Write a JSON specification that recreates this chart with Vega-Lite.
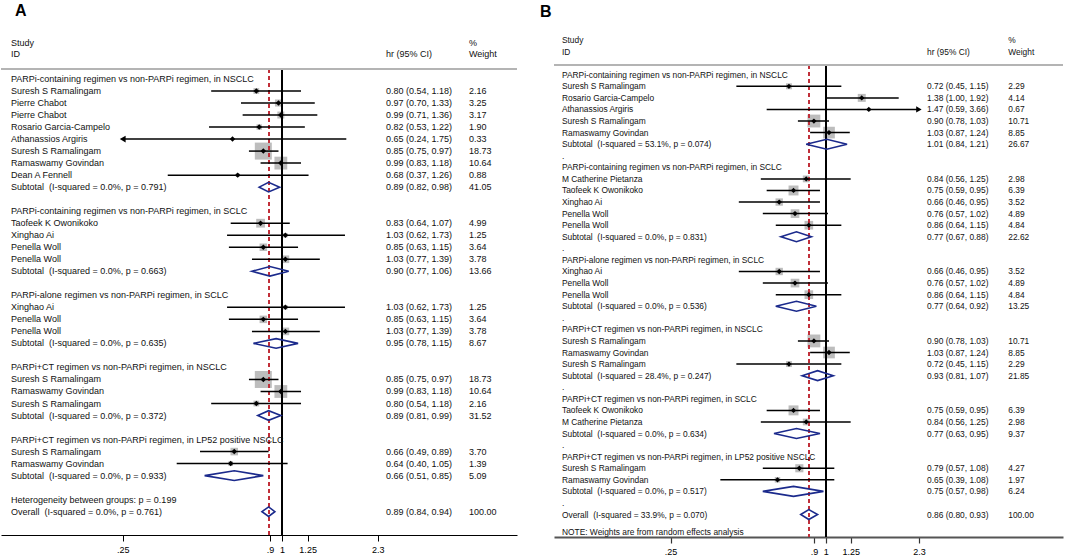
{
"$schema": "https://vega.github.io/schema/vega-lite/v6.json",
"padding": 0,
"background": "white",
"spacing": 37,
"bounds": "flush",
"config": {"view": {"stroke": null}, "font": "Liberation Sans", "axisY": {"disable": true}},
"datasets": {
"A": [
{"r":-5.62,"t":"letter","label":"A"},
{"r":-3,"t":"head","label":"Study","wt":"%"},
{"r":-2.08,"t":"head","label":"ID","ci":"hr (95% CI)","wt":"Weight"},
{"r":0,"t":"group","label":"PARPi-containing regimen vs non-PARPi regimen, in NSCLC"},
{"r":1,"t":"study","label":"Suresh S Ramalingam","est":0.80,"lo":0.54,"hi":1.18,"w":2.16,"ci":"0.80 (0.54, 1.18)","wt":"2.16"},
{"r":2,"t":"study","label":"Pierre Chabot","est":0.97,"lo":0.70,"hi":1.33,"w":3.25,"ci":"0.97 (0.70, 1.33)","wt":"3.25"},
{"r":3,"t":"study","label":"Pierre Chabot","est":0.99,"lo":0.71,"hi":1.36,"w":3.17,"ci":"0.99 (0.71, 1.36)","wt":"3.17"},
{"r":4,"t":"study","label":"Rosario Garcia-Campelo","est":0.82,"lo":0.53,"hi":1.22,"w":1.90,"ci":"0.82 (0.53, 1.22)","wt":"1.90"},
{"r":5,"t":"study","label":"Athanassios Argiris","est":0.65,"lo":0.25,"hi":1.75,"w":0.33,"ci":"0.65 (0.24, 1.75)","wt":"0.33","arrow":"left"},
{"r":6,"t":"study","label":"Suresh S Ramalingam","est":0.85,"lo":0.75,"hi":0.97,"w":18.73,"ci":"0.85 (0.75, 0.97)","wt":"18.73"},
{"r":7,"t":"study","label":"Ramaswamy Govindan","est":0.99,"lo":0.83,"hi":1.18,"w":10.64,"ci":"0.99 (0.83, 1.18)","wt":"10.64"},
{"r":8,"t":"study","label":"Dean A Fennell","est":0.68,"lo":0.37,"hi":1.26,"w":0.88,"ci":"0.68 (0.37, 1.26)","wt":"0.88"},
{"r":9,"t":"sub","label":"Subtotal\u00a0 (I-squared = 0.0%, p = 0.791)","ci":"0.89 (0.82, 0.98)","wt":"41.05"},
{"r":11,"t":"group","label":"PARPi-containing regimen vs non-PARPi regimen, in SCLC"},
{"r":12,"t":"study","label":"Taofeek K Owonikoko","est":0.83,"lo":0.64,"hi":1.07,"w":4.99,"ci":"0.83 (0.64, 1.07)","wt":"4.99"},
{"r":13,"t":"study","label":"Xinghao Ai","est":1.03,"lo":0.62,"hi":1.73,"w":1.25,"ci":"1.03 (0.62, 1.73)","wt":"1.25"},
{"r":14,"t":"study","label":"Penella Woll","est":0.85,"lo":0.63,"hi":1.15,"w":3.64,"ci":"0.85 (0.63, 1.15)","wt":"3.64"},
{"r":15,"t":"study","label":"Penella Woll","est":1.03,"lo":0.77,"hi":1.39,"w":3.78,"ci":"1.03 (0.77, 1.39)","wt":"3.78"},
{"r":16,"t":"sub","label":"Subtotal\u00a0 (I-squared = 0.0%, p = 0.663)","ci":"0.90 (0.77, 1.06)","wt":"13.66"},
{"r":18,"t":"group","label":"PARPi-alone regimen vs non-PARPi regimen, in SCLC"},
{"r":19,"t":"study","label":"Xinghao Ai","est":1.03,"lo":0.62,"hi":1.73,"w":1.25,"ci":"1.03 (0.62, 1.73)","wt":"1.25"},
{"r":20,"t":"study","label":"Penella Woll","est":0.85,"lo":0.63,"hi":1.15,"w":3.64,"ci":"0.85 (0.63, 1.15)","wt":"3.64"},
{"r":21,"t":"study","label":"Penella Woll","est":1.03,"lo":0.77,"hi":1.39,"w":3.78,"ci":"1.03 (0.77, 1.39)","wt":"3.78"},
{"r":22,"t":"sub","label":"Subtotal\u00a0 (I-squared = 0.0%, p = 0.635)","ci":"0.95 (0.78, 1.15)","wt":"8.67"},
{"r":24,"t":"group","label":"PARPi+CT regimen vs non-PARPi regimen, in NSCLC"},
{"r":25,"t":"study","label":"Suresh S Ramalingam","est":0.85,"lo":0.75,"hi":0.97,"w":18.73,"ci":"0.85 (0.75, 0.97)","wt":"18.73"},
{"r":26,"t":"study","label":"Ramaswamy Govindan","est":0.99,"lo":0.83,"hi":1.18,"w":10.64,"ci":"0.99 (0.83, 1.18)","wt":"10.64"},
{"r":27,"t":"study","label":"Suresh S Ramalingam","est":0.80,"lo":0.54,"hi":1.18,"w":2.16,"ci":"0.80 (0.54, 1.18)","wt":"2.16"},
{"r":28,"t":"sub","label":"Subtotal\u00a0 (I-squared = 0.0%, p = 0.372)","ci":"0.89 (0.81, 0.99)","wt":"31.52"},
{"r":30,"t":"group","label":"PARPi+CT regimen vs non-PARPi regimen, in LP52 positive NSCLC"},
{"r":31,"t":"study","label":"Suresh S Ramalingam","est":0.66,"lo":0.49,"hi":0.89,"w":3.70,"ci":"0.66 (0.49, 0.89)","wt":"3.70"},
{"r":32,"t":"study","label":"Ramaswamy Govindan","est":0.64,"lo":0.40,"hi":1.05,"w":1.39,"ci":"0.64 (0.40, 1.05)","wt":"1.39"},
{"r":33,"t":"sub","label":"Subtotal\u00a0 (I-squared = 0.0%, p = 0.933)","ci":"0.66 (0.51, 0.85)","wt":"5.09"},
{"r":35,"t":"het","label":"Heterogeneity between groups: p = 0.199"},
{"r":36,"t":"overall","label":"Overall\u00a0 (I-squared = 0.0%, p = 0.761)","ci":"0.89 (0.84, 0.94)","wt":"100.00"}
],
"B": [
{"r":-5.46,"t":"letter","label":"B"},
{"r":-3,"t":"head","label":"Study","wt":"%"},
{"r":-1.99,"t":"head","label":"ID","ci":"hr (95% CI)","wt":"Weight"},
{"r":0,"t":"group","label":"PARPi-containing regimen vs non-PARPi regimen, in NSCLC"},
{"r":1,"t":"study","label":"Suresh S Ramalingam","est":0.72,"lo":0.45,"hi":1.15,"w":2.29,"ci":"0.72 (0.45, 1.15)","wt":"2.29"},
{"r":2,"t":"study","label":"Rosario Garcia-Campelo","est":1.38,"lo":1.00,"hi":1.92,"w":4.14,"ci":"1.38 (1.00, 1.92)","wt":"4.14"},
{"r":3,"t":"study","label":"Athanassios Argiris","est":1.47,"lo":0.59,"hi":2.3,"w":0.67,"ci":"1.47 (0.59, 3.66)","wt":"0.67","arrow":"right"},
{"r":4,"t":"study","label":"Suresh S Ramalingam","est":0.90,"lo":0.78,"hi":1.03,"w":10.71,"ci":"0.90 (0.78, 1.03)","wt":"10.71"},
{"r":5,"t":"study","label":"Ramaswamy Govindan","est":1.03,"lo":0.87,"hi":1.24,"w":8.85,"ci":"1.03 (0.87, 1.24)","wt":"8.85"},
{"r":6,"t":"sub","label":"Subtotal\u00a0 (I-squared = 53.1%, p = 0.074)","ci":"1.01 (0.84, 1.21)","wt":"26.67"},
{"r":7,"t":"dot","label":"."},
{"r":8,"t":"group","label":"PARPi-containing regimen vs non-PARPi regimen, in SCLC"},
{"r":9,"t":"study","label":"M Catherine Pietanza","est":0.84,"lo":0.56,"hi":1.25,"w":2.98,"ci":"0.84 (0.56, 1.25)","wt":"2.98"},
{"r":10,"t":"study","label":"Taofeek K Owonikoko","est":0.75,"lo":0.59,"hi":0.95,"w":6.39,"ci":"0.75 (0.59, 0.95)","wt":"6.39"},
{"r":11,"t":"study","label":"Xinghao Ai","est":0.66,"lo":0.46,"hi":0.95,"w":3.52,"ci":"0.66 (0.46, 0.95)","wt":"3.52"},
{"r":12,"t":"study","label":"Penella Woll","est":0.76,"lo":0.57,"hi":1.02,"w":4.89,"ci":"0.76 (0.57, 1.02)","wt":"4.89"},
{"r":13,"t":"study","label":"Penella Woll","est":0.86,"lo":0.64,"hi":1.15,"w":4.84,"ci":"0.86 (0.64, 1.15)","wt":"4.84"},
{"r":14,"t":"sub","label":"Subtotal\u00a0 (I-squared = 0.0%, p = 0.831)","ci":"0.77 (0.67, 0.88)","wt":"22.62"},
{"r":15,"t":"dot","label":"."},
{"r":16,"t":"group","label":"PARPi-alone regimen vs non-PARPi regimen, in SCLC"},
{"r":17,"t":"study","label":"Xinghao Ai","est":0.66,"lo":0.46,"hi":0.95,"w":3.52,"ci":"0.66 (0.46, 0.95)","wt":"3.52"},
{"r":18,"t":"study","label":"Penella Woll","est":0.76,"lo":0.57,"hi":1.02,"w":4.89,"ci":"0.76 (0.57, 1.02)","wt":"4.89"},
{"r":19,"t":"study","label":"Penella Woll","est":0.86,"lo":0.64,"hi":1.15,"w":4.84,"ci":"0.86 (0.64, 1.15)","wt":"4.84"},
{"r":20,"t":"sub","label":"Subtotal\u00a0 (I-squared = 0.0%, p = 0.536)","ci":"0.77 (0.64, 0.92)","wt":"13.25"},
{"r":21,"t":"dot","label":"."},
{"r":22,"t":"group","label":"PARPi+CT regimen vs non-PARPi regimen, in NSCLC"},
{"r":23,"t":"study","label":"Suresh S Ramalingam","est":0.90,"lo":0.78,"hi":1.03,"w":10.71,"ci":"0.90 (0.78, 1.03)","wt":"10.71"},
{"r":24,"t":"study","label":"Ramaswamy Govindan","est":1.03,"lo":0.87,"hi":1.24,"w":8.85,"ci":"1.03 (0.87, 1.24)","wt":"8.85"},
{"r":25,"t":"study","label":"Suresh S Ramalingam","est":0.72,"lo":0.45,"hi":1.15,"w":2.29,"ci":"0.72 (0.45, 1.15)","wt":"2.29"},
{"r":26,"t":"sub","label":"Subtotal\u00a0 (I-squared = 28.4%, p = 0.247)","ci":"0.93 (0.81, 1.07)","wt":"21.85"},
{"r":27,"t":"dot","label":"."},
{"r":28,"t":"group","label":"PARPi+CT regimen vs non-PARPi regimen, in SCLC"},
{"r":29,"t":"study","label":"Taofeek K Owonikoko","est":0.75,"lo":0.59,"hi":0.95,"w":6.39,"ci":"0.75 (0.59, 0.95)","wt":"6.39"},
{"r":30,"t":"study","label":"M Catherine Pietanza","est":0.84,"lo":0.56,"hi":1.25,"w":2.98,"ci":"0.84 (0.56, 1.25)","wt":"2.98"},
{"r":31,"t":"sub","label":"Subtotal\u00a0 (I-squared = 0.0%, p = 0.634)","ci":"0.77 (0.63, 0.95)","wt":"9.37"},
{"r":32,"t":"dot","label":"."},
{"r":33,"t":"group","label":"PARPi+CT regimen vs non-PARPi regimen, in LP52 positive NSCLC"},
{"r":34,"t":"study","label":"Suresh S Ramalingam","est":0.79,"lo":0.57,"hi":1.08,"w":4.27,"ci":"0.79 (0.57, 1.08)","wt":"4.27"},
{"r":35,"t":"study","label":"Ramaswamy Govindan","est":0.65,"lo":0.39,"hi":1.08,"w":1.97,"ci":"0.65 (0.39, 1.08)","wt":"1.97"},
{"r":36,"t":"sub","label":"Subtotal\u00a0 (I-squared = 0.0%, p = 0.517)","ci":"0.75 (0.57, 0.98)","wt":"6.24"},
{"r":37,"t":"dot","label":"."},
{"r":38,"t":"overall","label":"Overall\u00a0 (I-squared = 33.9%, p = 0.070)","ci":"0.86 (0.80, 0.93)","wt":"100.00"},
{"r":39.5,"t":"note","label":"NOTE: Weights are from random effects analysis"}
],
"dA": [
{"id":"a9","k":0,"x":0.82,"r":9},{"id":"a9","k":1,"x":0.89,"r":8.6},{"id":"a9","k":2,"x":0.98,"r":9},{"id":"a9","k":3,"x":0.89,"r":9.4},
{"id":"a16","k":0,"x":0.77,"r":16},{"id":"a16","k":1,"x":0.90,"r":15.6},{"id":"a16","k":2,"x":1.06,"r":16},{"id":"a16","k":3,"x":0.90,"r":16.4},
{"id":"a22","k":0,"x":0.78,"r":22},{"id":"a22","k":1,"x":0.95,"r":21.6},{"id":"a22","k":2,"x":1.15,"r":22},{"id":"a22","k":3,"x":0.95,"r":22.4},
{"id":"a28","k":0,"x":0.81,"r":28},{"id":"a28","k":1,"x":0.89,"r":27.6},{"id":"a28","k":2,"x":0.99,"r":28},{"id":"a28","k":3,"x":0.89,"r":28.4},
{"id":"a33","k":0,"x":0.51,"r":33},{"id":"a33","k":1,"x":0.66,"r":32.6},{"id":"a33","k":2,"x":0.85,"r":33},{"id":"a33","k":3,"x":0.66,"r":33.4},
{"id":"a36","k":0,"x":0.84,"r":36},{"id":"a36","k":1,"x":0.89,"r":35.6},{"id":"a36","k":2,"x":0.94,"r":36},{"id":"a36","k":3,"x":0.89,"r":36.4}
],
"dB": [
{"id":"b6","k":0,"x":0.84,"r":6},{"id":"b6","k":1,"x":1.01,"r":5.57},{"id":"b6","k":2,"x":1.21,"r":6},{"id":"b6","k":3,"x":1.01,"r":6.43},
{"id":"b14","k":0,"x":0.67,"r":14},{"id":"b14","k":1,"x":0.77,"r":13.57},{"id":"b14","k":2,"x":0.88,"r":14},{"id":"b14","k":3,"x":0.77,"r":14.43},
{"id":"b20","k":0,"x":0.64,"r":20},{"id":"b20","k":1,"x":0.77,"r":19.57},{"id":"b20","k":2,"x":0.92,"r":20},{"id":"b20","k":3,"x":0.77,"r":20.43},
{"id":"b26","k":0,"x":0.81,"r":26},{"id":"b26","k":1,"x":0.93,"r":25.57},{"id":"b26","k":2,"x":1.07,"r":26},{"id":"b26","k":3,"x":0.93,"r":26.43},
{"id":"b31","k":0,"x":0.63,"r":31},{"id":"b31","k":1,"x":0.77,"r":30.57},{"id":"b31","k":2,"x":0.95,"r":31},{"id":"b31","k":3,"x":0.77,"r":31.43},
{"id":"b36","k":0,"x":0.57,"r":36},{"id":"b36","k":1,"x":0.75,"r":35.57},{"id":"b36","k":2,"x":0.98,"r":36},{"id":"b36","k":3,"x":0.75,"r":36.43},
{"id":"b38","k":0,"x":0.80,"r":38},{"id":"b38","k":1,"x":0.86,"r":37.57},{"id":"b38","k":2,"x":0.93,"r":38},{"id":"b38","k":3,"x":0.86,"r":38.43}
]
},
"hconcat": [
{
"width": 516, "height": 535,
"data": {"name": "A"},
"layer": [
{"transform":[{"filter":"datum.t == 'study'"}],
 "mark":{"type":"point","shape":"square","filled":true,"color":"#bdbdbd","opacity":1},
 "encoding":{
  "x":{"field":"est","type":"quantitative","title":null,"scale":{"type":"log","domain":[0.0867,7.73],"nice":false,"zero":false},
       "axis":{"values":[0.25,0.9,1,1.25,2.3],"labelExpr":"datum.value < 0.3 ? '.25' : datum.value < 0.95 ? '.9' : datum.value < 1.1 ? '1' : datum.value < 2 ? '1.25' : '2.3'","grid":false,"domainColor":"#000","domainWidth":1,"tickColor":"#000","tickSize":6,"tickWidth":1,"labelFontSize":9,"labelColor":"#000","labelPadding":4,"labelOverlap":false,"labelFlush":false,"labelBound":false}},
  "y":{"field":"r","type":"quantitative","axis":null,"scale":{"domain":[-6.57,37.94],"reverse":true,"nice":false,"zero":false}},
  "size":{"field":"w","type":"quantitative","legend":null,"scale":{"type":"linear","domain":[0,18.73],"range":[0,289],"zero":true}}
 }},
{"mark":{"type":"rule","color":"#000","strokeWidth":1.2},
 "encoding":{"x":{"datum":1,"title":null},"y":{"datum":-0.83,"axis":null},"y2":{"datum":37.94}}},
{"mark":{"type":"rule","color":"#c0303a","strokeWidth":1.2,"strokeDash":[4,3]},
 "encoding":{"x":{"datum":0.89,"title":null},"y":{"datum":-0.83,"axis":null},"y2":{"datum":37.94}}},
{"transform":[{"filter":"datum.t == 'study'"}],
 "mark":{"type":"rule","color":"#000","strokeWidth":1.5},
 "encoding":{"x":{"field":"lo","type":"quantitative","title":null},"x2":{"field":"hi"},"y":{"field":"r","type":"quantitative","axis":null}}},
{"transform":[{"filter":"datum.t == 'study'"}],
 "mark":{"type":"point","shape":"diamond","filled":true,"color":"#000","size":30,"opacity":1},
 "encoding":{"x":{"field":"est","type":"quantitative","title":null},"y":{"field":"r","type":"quantitative","axis":null}}},
{"transform":[{"filter":"datum.arrow == 'left'"}],
 "mark":{"type":"point","shape":"triangle-left","filled":true,"color":"#000","size":45,"opacity":1},
 "encoding":{"x":{"field":"lo","type":"quantitative","title":null},"y":{"field":"r","type":"quantitative","axis":null}}},
{"data":{"name":"dA"},
 "mark":{"type":"line","interpolate":"linear-closed","color":"#1b2a8c","strokeWidth":1.6},
 "encoding":{"x":{"field":"x","type":"quantitative","title":null},"y":{"field":"r","type":"quantitative","axis":null},"detail":{"field":"id"},"order":{"field":"k","type":"quantitative"}}},
{"mark":{"type":"rule","color":"#b5b5b5","strokeWidth":1.6},
 "encoding":{"y":{"datum":-0.83,"axis":null}}},
{"transform":[{"filter":"datum.t != 'letter'"}],
 "mark":{"type":"text","align":"left","baseline":"middle","fontSize":9,"color":"#111"},
 "encoding":{"x":{"datum":0.0946,"title":null},"y":{"field":"r","type":"quantitative","axis":null},"text":{"field":"label"}}},
{"transform":[{"filter":"isValid(datum.ci)"}],
 "mark":{"type":"text","align":"left","baseline":"middle","fontSize":9,"color":"#111"},
 "encoding":{"x":{"datum":2.472,"title":null},"y":{"field":"r","type":"quantitative","axis":null},"text":{"field":"ci"}}},
{"transform":[{"filter":"isValid(datum.wt)"}],
 "mark":{"type":"text","align":"left","baseline":"middle","fontSize":9,"color":"#111"},
 "encoding":{"x":{"datum":5.091,"title":null},"y":{"field":"r","type":"quantitative","axis":null},"text":{"field":"wt"}}},
{"transform":[{"filter":"datum.t == 'letter'"}],
 "mark":{"type":"text","align":"left","baseline":"middle","fontSize":16,"fontWeight":"bold","color":"#000"},
 "encoding":{"x":{"datum":0.0979,"title":null},"y":{"field":"r","type":"quantitative","axis":null},"text":{"field":"label"}}}
]
},
{
"width": 509, "height": 537,
"data": {"name": "B"},
"layer": [
{"transform":[{"filter":"datum.t == 'study'"}],
 "mark":{"type":"point","shape":"square","filled":true,"color":"#bdbdbd","opacity":1},
 "encoding":{
  "x":{"field":"est","type":"quantitative","title":null,"scale":{"type":"log","domain":[0.0882,8.336],"nice":false,"zero":false},
       "axis":{"values":[0.25,0.9,1,1.25,2.3],"labelExpr":"datum.value < 0.3 ? '.25' : datum.value < 0.95 ? '.9' : datum.value < 1.1 ? '1' : datum.value < 2 ? '1.25' : '2.3'","grid":false,"domainColor":"#555","domainWidth":2,"tickColor":"#333","tickSize":6,"tickWidth":1.2,"labelFontSize":9,"labelColor":"#000","labelPadding":4,"labelOverlap":false,"labelFlush":false,"labelBound":false}},
  "y":{"field":"r","type":"quantitative","axis":null,"scale":{"domain":[-6.457,39.94],"reverse":true,"nice":false,"zero":false}},
  "size":{"field":"w","type":"quantitative","legend":null,"scale":{"type":"linear","domain":[0,10.71],"range":[0,92],"zero":true}}
 }},
{"mark":{"type":"rule","color":"#000","strokeWidth":1.2},
 "encoding":{"x":{"datum":1,"title":null},"y":{"datum":-0.84,"axis":null},"y2":{"datum":39.94}}},
{"mark":{"type":"rule","color":"#c0303a","strokeWidth":1.2,"strokeDash":[4,3]},
 "encoding":{"x":{"datum":0.86,"title":null},"y":{"datum":-0.84,"axis":null},"y2":{"datum":39.94}}},
{"transform":[{"filter":"datum.t == 'study'"}],
 "mark":{"type":"rule","color":"#000","strokeWidth":1.5},
 "encoding":{"x":{"field":"lo","type":"quantitative","title":null},"x2":{"field":"hi"},"y":{"field":"r","type":"quantitative","axis":null}}},
{"transform":[{"filter":"datum.t == 'study'"}],
 "mark":{"type":"point","shape":"diamond","filled":true,"color":"#000","size":28,"opacity":1},
 "encoding":{"x":{"field":"est","type":"quantitative","title":null},"y":{"field":"r","type":"quantitative","axis":null}}},
{"transform":[{"filter":"datum.arrow == 'right'"}],
 "mark":{"type":"point","shape":"triangle-right","filled":true,"color":"#000","size":40,"opacity":1},
 "encoding":{"x":{"field":"hi","type":"quantitative","title":null},"y":{"field":"r","type":"quantitative","axis":null}}},
{"data":{"name":"dB"},
 "mark":{"type":"line","interpolate":"linear-closed","color":"#1b2a8c","strokeWidth":1.6},
 "encoding":{"x":{"field":"x","type":"quantitative","title":null},"y":{"field":"r","type":"quantitative","axis":null},"detail":{"field":"id"},"order":{"field":"k","type":"quantitative"}}},
{"mark":{"type":"rule","color":"#b5b5b5","strokeWidth":1.6},
 "encoding":{"y":{"datum":-0.84,"axis":null}}},
{"transform":[{"filter":"datum.t != 'letter'"}],
 "mark":{"type":"text","align":"left","baseline":"middle","fontSize":8.4,"color":"#111"},
 "encoding":{"x":{"datum":0.0947,"title":null},"y":{"field":"r","type":"quantitative","axis":null},"text":{"field":"label"}}},
{"transform":[{"filter":"isValid(datum.ci)"}],
 "mark":{"type":"text","align":"left","baseline":"middle","fontSize":8.4,"color":"#111"},
 "encoding":{"x":{"datum":2.4727,"title":null},"y":{"field":"r","type":"quantitative","axis":null},"text":{"field":"ci"}}},
{"transform":[{"filter":"isValid(datum.wt)"}],
 "mark":{"type":"text","align":"left","baseline":"middle","fontSize":8.4,"color":"#111"},
 "encoding":{"x":{"datum":5.113,"title":null},"y":{"field":"r","type":"quantitative","axis":null},"text":{"field":"wt"}}},
{"transform":[{"filter":"datum.t == 'letter'"}],
 "mark":{"type":"text","align":"left","baseline":"middle","fontSize":16,"fontWeight":"bold","color":"#000"},
 "encoding":{"x":{"datum":0.0778,"title":null},"y":{"field":"r","type":"quantitative","axis":null},"text":{"field":"label"}}}
]
}
]
}
